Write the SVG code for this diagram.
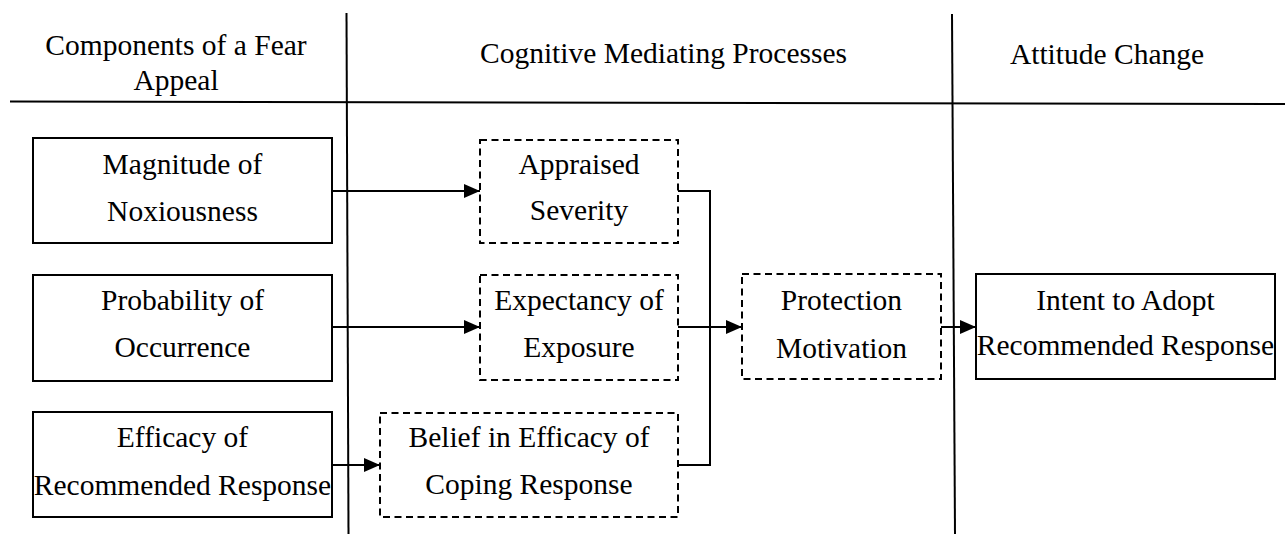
<svg xmlns="http://www.w3.org/2000/svg" width="1285" height="534" viewBox="0 0 1285 534">
  <defs>
    <marker id="arrow" markerUnits="userSpaceOnUse" markerWidth="17" markerHeight="14" refX="16" refY="7" orient="auto">
      <path d="M0,0 L16,7 L0,14 z" fill="#000"/>
    </marker>
    <style>
      text { font-family: "Liberation Serif", "Times New Roman", serif; font-size: 29.5px; fill: #000; text-anchor: middle; }
      .solid { fill: #fff; stroke: #000; stroke-width: 2; }
      .dashed { fill: #fff; stroke: #000; stroke-width: 2; stroke-dasharray: 7 4.5; }
      .rule { stroke: #000; stroke-width: 2; fill: none; }
      .conn { stroke: #000; stroke-width: 2; fill: none; }
    </style>
  </defs>
  <rect width="1285" height="534" fill="#fff"/>

  <!-- column rules -->
  <g id="rules">
    <line class="rule" x1="10" y1="101.5" x2="1285" y2="104"/>
    <line class="rule" x1="346.5" y1="13" x2="348.5" y2="534"/>
    <line class="rule" x1="952" y1="14" x2="955" y2="534"/>
  </g>

  <!-- column headings -->
  <g id="headings">
    <text x="176" y="55">Components of a Fear</text>
    <text x="176" y="90">Appeal</text>
    <text x="663.5" y="63">Cognitive Mediating Processes</text>
    <text x="1107" y="64">Attitude Change</text>
  </g>

  <!-- connectors -->
  <g id="connectors">
    <line class="conn" x1="332" y1="191" x2="480" y2="191" marker-end="url(#arrow)"/>
    <line class="conn" x1="332" y1="327" x2="480" y2="327" marker-end="url(#arrow)"/>
    <line class="conn" x1="332" y1="465" x2="380" y2="465" marker-end="url(#arrow)"/>
    <path class="conn" d="M678,191 H710 V465 H678"/>
    <line class="conn" x1="678" y1="327" x2="742" y2="327" marker-end="url(#arrow)"/>
    <line class="conn" x1="941" y1="327" x2="976" y2="327" marker-end="url(#arrow)"/>
  </g>

  <!-- fear appeal components -->
  <g id="magnitude">
    <rect class="solid" x="33" y="138" width="299" height="105"/>
    <text x="182.5" y="174">Magnitude of</text>
    <text x="182.5" y="221">Noxiousness</text>
  </g>
  <g id="probability">
    <rect class="solid" x="33" y="275" width="299" height="106"/>
    <text x="182.5" y="310">Probability of</text>
    <text x="182.5" y="357">Occurrence</text>
  </g>
  <g id="efficacy">
    <rect class="solid" x="33" y="412" width="299" height="105"/>
    <text x="182.5" y="447">Efficacy of</text>
    <text x="182.5" y="495">Recommended Response</text>
  </g>

  <!-- cognitive mediating processes -->
  <g id="appraised-severity">
    <rect class="dashed" x="480" y="140" width="198" height="103"/>
    <text x="579" y="174">Appraised</text>
    <text x="579" y="220">Severity</text>
  </g>
  <g id="expectancy-exposure">
    <rect class="dashed" x="480" y="275" width="198" height="105"/>
    <text x="579" y="310">Expectancy of</text>
    <text x="579" y="357">Exposure</text>
  </g>
  <g id="belief-efficacy">
    <rect class="dashed" x="380" y="413" width="298" height="104"/>
    <text x="529" y="447">Belief in Efficacy of</text>
    <text x="529" y="494">Coping Response</text>
  </g>
  <g id="protection-motivation">
    <rect class="dashed" x="742" y="274" width="199" height="105"/>
    <text x="841.5" y="310">Protection</text>
    <text x="841.5" y="358">Motivation</text>
  </g>

  <!-- attitude change -->
  <g id="intent">
    <rect class="solid" x="976" y="274" width="299" height="105"/>
    <text x="1125.5" y="310">Intent to Adopt</text>
    <text x="1125.5" y="355">Recommended Response</text>
  </g>
</svg>
